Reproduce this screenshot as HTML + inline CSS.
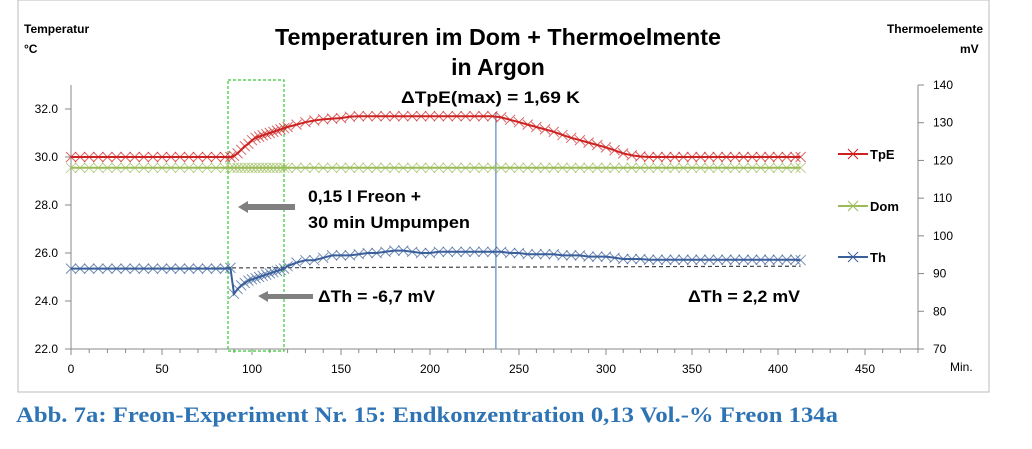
<!DOCTYPE html>
<html><head><meta charset="utf-8"><style>
body{margin:0;background:#fff;width:1032px;height:449px;overflow:hidden;font-family:"Liberation Sans",sans-serif}
svg{position:absolute;left:0;top:0}
</style></head><body>
<svg width="1032" height="449" id="svg">
<rect x="18" y="0" width="971" height="392" fill="#fff" stroke="#bbb"/>
<text x="275" y="45" textLength="446" lengthAdjust="spacingAndGlyphs" font-size="23" font-weight="bold">Temperaturen im Dom + Thermoelmente</text>
<text x="498" y="75" text-anchor="middle" font-size="23" font-weight="bold">in Argon</text>
<text x="24" y="33" font-size="12" font-weight="bold">Temperatur</text>
<text x="24" y="53" font-size="12" font-weight="bold">°C</text>
<text x="983" y="33" text-anchor="end" font-size="12" font-weight="bold">Thermoelemente</text>
<text x="960" y="53" font-size="12" font-weight="bold">mV</text>
<text x="16" y="422" textLength="822" lengthAdjust="spacingAndGlyphs" font-family="Liberation Serif,serif" font-size="22" font-weight="bold" fill="#2e74b5">Abb. 7a: Freon-Experiment Nr. 15: Endkonzentration 0,13 Vol.-% Freon 134a</text>
<g id="g"></g>
</svg>
<script>
const tickX=[0,50,100,150,200,250,300,350,400,450];
const tickL=[22,24,26,28,30,32];
const tickR=[70,80,90,100,110,120,130,140];
const times=[0,5,10,15,20,25,30,35,40,45,50,55,60,65,70,75,80,85,88,90,92,94,96,98,100,102,104,106,108,110,112,114,116,118,120,125,130,135,140,145,150,155,160,165,170,175,180,185,190,195,200,205,210,215,220,225,230,235,240,245,250,255,260,265,270,275,280,285,290,295,300,305,310,315,320,325,330,335,340,345,350,355,360,365,370,375,380,385,390,395,400,405,410,413];
const tpe=[30,30,30,30,30,30,30,30,30,30,30,30,30,30,30,30,30,30,30,30.05,30.15,30.3,30.45,30.55,30.7,30.8,30.85,30.9,30.95,31,31.05,31.1,31.15,31.2,31.25,31.35,31.45,31.52,31.57,31.6,31.62,31.68,31.7,31.7,31.7,31.7,31.7,31.7,31.7,31.7,31.7,31.7,31.7,31.7,31.7,31.7,31.7,31.7,31.65,31.55,31.45,31.35,31.25,31.15,31.05,30.92,30.8,30.7,30.6,30.5,30.4,30.28,30.15,30.07,30.02,30,30,30,30,30,30,30,30,30,30,30,30,30,30,30,30,30,30,30];
const dom=times.map(()=>29.55);
const th=[25.35,25.35,25.35,25.35,25.35,25.35,25.35,25.35,25.35,25.35,25.35,25.35,25.35,25.35,25.35,25.35,25.35,25.35,25.38,24.3,24.5,24.65,24.75,24.85,24.9,24.95,25,25.05,25.1,25.15,25.2,25.25,25.3,25.35,25.45,25.6,25.7,25.7,25.8,25.9,25.9,25.9,25.95,26,26,26.05,26.1,26.1,26.05,26,26,26.05,26.05,26.05,26.05,26.05,26.05,26.05,26.05,26,26,25.95,25.95,25.95,25.95,25.9,25.9,25.9,25.85,25.85,25.85,25.8,25.75,25.75,25.75,25.72,25.72,25.72,25.72,25.72,25.72,25.72,25.72,25.72,25.72,25.72,25.72,25.72,25.72,25.72,25.72,25.72,25.72,25.7];
const baseT=[0,88,413];
const baseV=[25.35,25.38,25.45];
const peakT=237;
// reference axis is slightly non-uniform; calibrate through the label positions
const calT=[0,50,100,150,200,250,300,350,400,450,480];
const calP=[71,162,252,341,430,519,606,692,778,865,918];
function X(t){for(let i=0;i<calT.length-1;i++){if(t<=calT[i+1]){return calP[i]+(t-calT[i])*(calP[i+1]-calP[i])/(calT[i+1]-calT[i]);}}return 918;}
const Y=v=>349-(v-22)*24;
const YR=v=>349-(v-70)*(349-85)/70;
const g=document.getElementById('g');
const NS='http://www.w3.org/2000/svg';
function mk(tag,a,txt){const e=document.createElementNS(NS,tag);for(const k in a)e.setAttribute(k,a[k]);if(txt!==undefined)e.textContent=txt;g.appendChild(e);return e;}
let e=mk('line',{x1:71,y1:Y(33),x2:71,y2:349,stroke:'#888'});

e=mk('line',{x1:918,y1:85,x2:918,y2:349,stroke:'#888'});

e=mk('line',{x1:71,y1:349,x2:918,y2:349,stroke:'#888'});

for(let t=0;t<=480;t+=10){mk('line',{x1:X(t),y1:349,x2:X(t),y2:t%50==0?355:353,stroke:'#888'});}
tickX.forEach(t=>{e=mk('text',{x:X(t),y:373,'text-anchor':'middle','font-size':12},t);
});
e=mk('text',{x:950,y:371,'font-size':12},'Min.');

tickL.forEach(v=>{mk('line',{x1:65,y1:Y(v),x2:71,y2:Y(v),stroke:'#888'});
e=mk('text',{x:58,y:Y(v)+4,'text-anchor':'end','font-size':12},v.toFixed(1));
});
tickR.forEach(v=>{mk('line',{x1:918,y1:YR(v),x2:924,y2:YR(v),stroke:'#888'});
e=mk('text',{x:933,y:YR(v)+4,'font-size':12},v);
});
e=mk('rect',{x:228,y:80,width:56,height:271,fill:'none',stroke:'#3c3','stroke-dasharray':'3,2','stroke-width':1.2});

e=mk('line',{x1:X(peakT),y1:112,x2:X(peakT),y2:349,stroke:'#7a9fd0','stroke-width':1.5});

e=mk('polyline',{points:baseT.map((t,i)=>X(t)+','+Y(baseV[i])).join(' '),fill:'none',stroke:'#444','stroke-dasharray':'4,3','stroke-width':1.2});

function series(vals,col,name){
 e=mk('polyline',{points:times.map((t,i)=>X(t)+','+Y(vals[i])).join(' '),fill:'none',stroke:col,'stroke-width':2});
 
 times.forEach((t,i)=>{const x=X(t),y=Y(vals[i]);
  e=mk('path',{d:`M${x-5} ${y-5}L${x+5} ${y+5}M${x-5} ${y+5}L${x+5} ${y-5}`,stroke:col,'stroke-width':1,opacity:0.7});
  });
}
series(dom,'#9bbb59','dom');
series(tpe,'#cc2222','tpe');
series(th,'#3a5f9a','th');
[['TpE','#cc2222',154],['Dom','#9bbb59',206],['Th','#3a5f9a',257]].forEach(l=>{
 e=mk('line',{x1:838,y1:l[2],x2:868,y2:l[2],stroke:l[1],'stroke-width':2});
 
 mk('path',{d:`M848 ${l[2]-5}L858 ${l[2]+5}M848 ${l[2]+5}L858 ${l[2]-5}`,stroke:l[1]});
 e=mk('text',{x:870,y:l[2]+5,'font-size':13,'font-weight':'bold'},l[0]);
 });
function ann(x,y,w,txt,name){e=mk('text',{x:x,y:y,textLength:w,lengthAdjust:'spacingAndGlyphs','font-size':17,'font-weight':'bold'},txt);
 }
ann(401,103,179,'ΔTpE(max) = 1,69 K','peak-annotation');
e=mk('path',{d:'M238 207L248 201L248 204L295 204L295 210L248 210L248 213Z',fill:'#808080'});

ann(308,202,113,'0,15 l Freon +','freon-annotation');
ann(308,228,162,'30 min Umpumpen','pump-annotation');
e=mk('path',{d:'M258 296L268 291L268 294L313 294L313 299L268 299L268 302Z',fill:'#808080'});

ann(318,302,117,'ΔTh = -6,7 mV','th-drop-annotation');
ann(688,302,112,'ΔTh = 2,2 mV','th-final-annotation');
</script>
</body></html>
